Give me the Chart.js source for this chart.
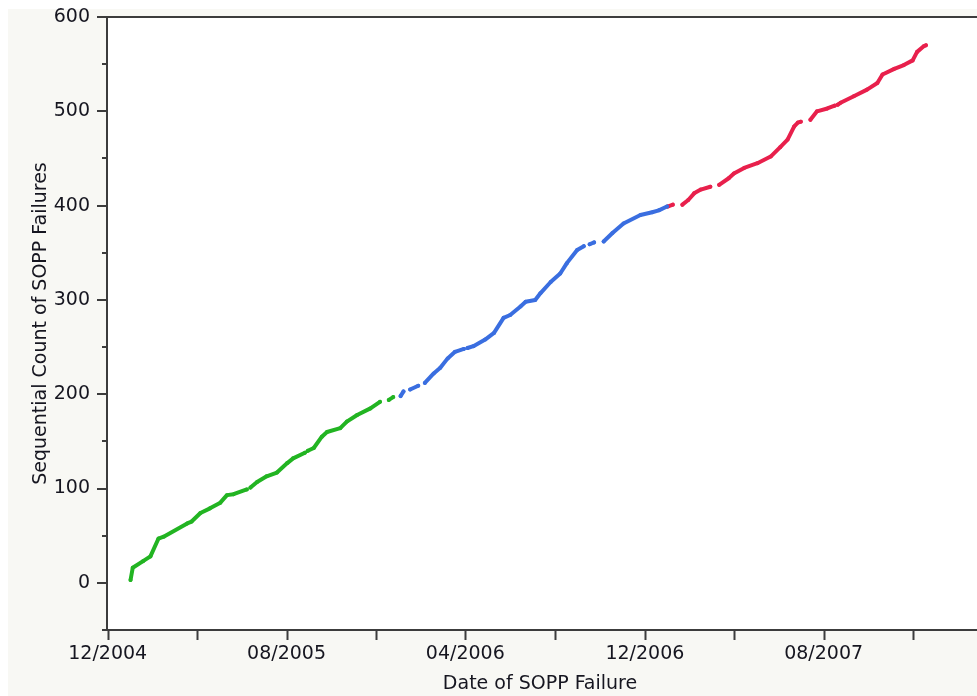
<!DOCTYPE html>
<html>
<head>
<meta charset="utf-8">
<script src="https://cdn.jsdelivr.net/npm/chart.js@4.4.1/dist/chart.umd.min.js"></script>
<style>
  html, body { margin: 0; padding: 0; background: #ffffff; }
  #chart { display: block; }
</style>
</head>
<body>
<canvas id="chart" width="977" height="696"></canvas>
<script>
// 基準日 (x = この日からの日数)
const startDate = '2004-12-01';

// 2005年まで (緑) : null は途切れ
const days2005   = [31, 34, 48, 58, 69, 76, 108, 114, 126, 139, 153, 162, 171, 189, null,
                    194, 203, 216, 230, 244, 252, 268, null, 272, 280, 291, 298, 316, 325, 339, 357, 370, null,
                    382, 388];
const counts2005 = [3, 16, 23, 28, 47, 49, 63, 65, 74, 79, 85, 93, 94, 99, null,
                    101, 107, 113, 117, 127, 132, 138, null, 140, 143, 155, 160, 164, 171, 178, 185, 192, null,
                    194, 197];

// 2006年 (青)
const days2006   = [398, 402, null, 411, 422, null, 431, 443, 452, 462, 472, 484, null, 489, 497, 513, 525,
                    538, 547, 561, 568, 581, 588, 602, 615, 624, 638, 647, null, 655, 661, null,
                    674, 686, 701, 724, 740, 749, 760];
const counts2006 = [198, 203, null, 205, 209, null, 212, 222, 228, 238, 245, 248, null, 249, 251, 258, 265,
                    281, 284, 293, 298, 300, 307, 319, 328, 339, 353, 357, null, 359, 361, null,
                    362, 371, 381, 390, 393, 395, 399];

// 2007年以降 (赤)
const days2007   = [761, 768, null, 781, 789, 797, 806, 819, null, 831, 844, 851, 865, 883, 901, 914,
                    924, 933, 938, 942, null, 955, 964, 978, 988, null, 992, 996, 1014, 1032, 1046,
                    1053, 1069, 1082, 1094, 1100, 1109, 1112];
const counts2007 = [399, 401, null, 401, 406, 413, 417, 420, null, 422, 429, 434, 440, 445, 452, 462,
                    470, 484, 488, 489, null, 491, 500, 503, 506, null, 507, 509, 516, 523, 530,
                    539, 545, 549, 554, 563, 569, 570];

// 目盛り
const xTickDates  = ['2004-12-01', '2005-04-01', '2005-08-01', '2005-12-01', '2006-04-01',
                     '2006-08-01', '2006-12-01', '2007-04-01', '2007-08-01', '2007-12-01'];
const xTickLabels = ['12/2004', '', '08/2005', '', '04/2006', '', '12/2006', '', '08/2007', ''];
const yTicks = [-50, 0, 50, 100, 150, 200, 250, 300, 350, 400, 450, 500, 550, 600];

const DAY = 24 * 3600 * 1000;
function dayOf(s) {
    return Math.round((Date.parse(s + 'T00:00:00Z') - Date.parse(startDate + 'T00:00:00Z')) / DAY);
}
const xTickDays = xTickDates.map(dayOf);

function toPoints(xs, ys) {
    return xs.map((x, i) => ({ x: x, y: ys[i] }));
}

function series(label, xs, ys, color) {
    return {
        label: label,
        data: toPoints(xs, ys),
        showLine: true,
        borderColor: color,
        backgroundColor: color,
        borderWidth: 4,
        borderCapStyle: 'round',
        borderJoinStyle: 'round',
        pointRadius: 2,
        pointBorderWidth: 0,
        spanGaps: false
    };
}

// 軸ラベルのはみ出し分の余白を消す
function noOverflow(scale) {
    scale.paddingTop = 0;
    scale.paddingBottom = 0;
    scale.paddingLeft = 0;
    scale.paddingRight = 0;
}

const fontFamily = '"DejaVu Sans", sans-serif';
const fontSize = 19;
const axisColor = '#3c3c3c';
const textColor = '#161620';

// 背景と軸・目盛りの描画 (プロット枠は右端まで伸ばす)
const framePlugin = {
    id: 'frame',
    beforeDraw(chart) {
        const ctx = chart.ctx;
        const a = chart.chartArea;
        ctx.save();
        ctx.fillStyle = '#f8f8f4';
        ctx.fillRect(8, 9, chart.width - 8, chart.height - 9);
        ctx.fillStyle = '#ffffff';
        ctx.fillRect(a.left, a.top, chart.width - a.left, a.bottom - a.top);
        ctx.restore();
    },
    afterDraw(chart) {
        const ctx = chart.ctx;
        const a = chart.chartArea;
        const xs = chart.scales.x;
        const ys = chart.scales.y;
        ctx.save();
        ctx.strokeStyle = axisColor;
        ctx.lineWidth = 2;
        ctx.beginPath();
        ctx.moveTo(a.left, a.top);
        ctx.lineTo(chart.width, a.top);
        ctx.moveTo(a.left, a.top);
        ctx.lineTo(a.left, a.bottom);
        ctx.moveTo(a.left - 5, a.bottom);
        ctx.lineTo(chart.width, a.bottom);
        ys.ticks.forEach(t => {
            const y = Math.round(ys.getPixelForValue(t.value));
            const len = t.value % 100 === 0 ? 10 : 5;
            ctx.moveTo(a.left - len, y);
            ctx.lineTo(a.left, y);
        });
        xs.ticks.forEach(t => {
            const x = Math.round(xs.getPixelForValue(t.value)) + 0.5;
            ctx.moveTo(x, a.bottom);
            ctx.lineTo(x, a.bottom + 10);
        });
        ctx.stroke();
        ctx.restore();
    }
};

const ctx = document.getElementById('chart').getContext('2d');
const chart = new Chart(ctx, {
    type: 'scatter',
    data: {
        datasets: [
            series('2005', days2005, counts2005, '#22b422'),
            series('2006', days2006, counts2006, '#3a6ee0'),
            series('2007', days2007, counts2007, '#e8204c')
        ]
    },
    options: {
        responsive: false,
        animation: false,
        layout: { padding: { left: 8, top: 17, right: 0, bottom: 0 } },
        plugins: {
            legend: { display: false },
            tooltip: { enabled: false }
        },
        scales: {
            x: {
                type: 'linear',
                min: -1,
                max: 1176,
                afterFit(scale) { scale.height = 66; noOverflow(scale); },
                afterBuildTicks(scale) {
                    scale.ticks = xTickDays.map(v => ({ value: v }));
                },
                grid: { display: false, drawTicks: false },
                border: { display: false },
                ticks: {
                    autoSkip: false,
                    maxRotation: 0,
                    padding: 13,
                    color: textColor,
                    font: { family: fontFamily, size: fontSize },
                    callback: (v) => {
                        const i = xTickDays.indexOf(v);
                        return i >= 0 ? xTickLabels[i] : '';
                    }
                },
                title: {
                    display: true,
                    text: 'Date of SOPP Failure',
                    color: textColor,
                    font: { family: fontFamily, size: fontSize },
                    padding: { top: 0, bottom: 1 }
                }
            },
            y: {
                min: -50,
                max: 600,
                afterFit(scale) { scale.width = 99; noOverflow(scale); },
                afterBuildTicks(scale) {
                    scale.ticks = yTicks.map(v => ({ value: v }));
                },
                grid: { display: false, drawTicks: false },
                border: { display: false },
                ticks: {
                    autoSkip: false,
                    padding: 17,
                    color: textColor,
                    font: { family: fontFamily, size: fontSize },
                    callback: (v) => (v >= 0 && v % 100 === 0 ? String(v) : '')
                },
                title: {
                    display: true,
                    text: 'Sequential Count of SOPP Failures',
                    color: textColor,
                    font: { family: fontFamily, size: fontSize },
                    padding: { top: 22, bottom: 0 }
                }
            }
        }
    },
    plugins: [framePlugin]
});
</script>
</body>
</html>
